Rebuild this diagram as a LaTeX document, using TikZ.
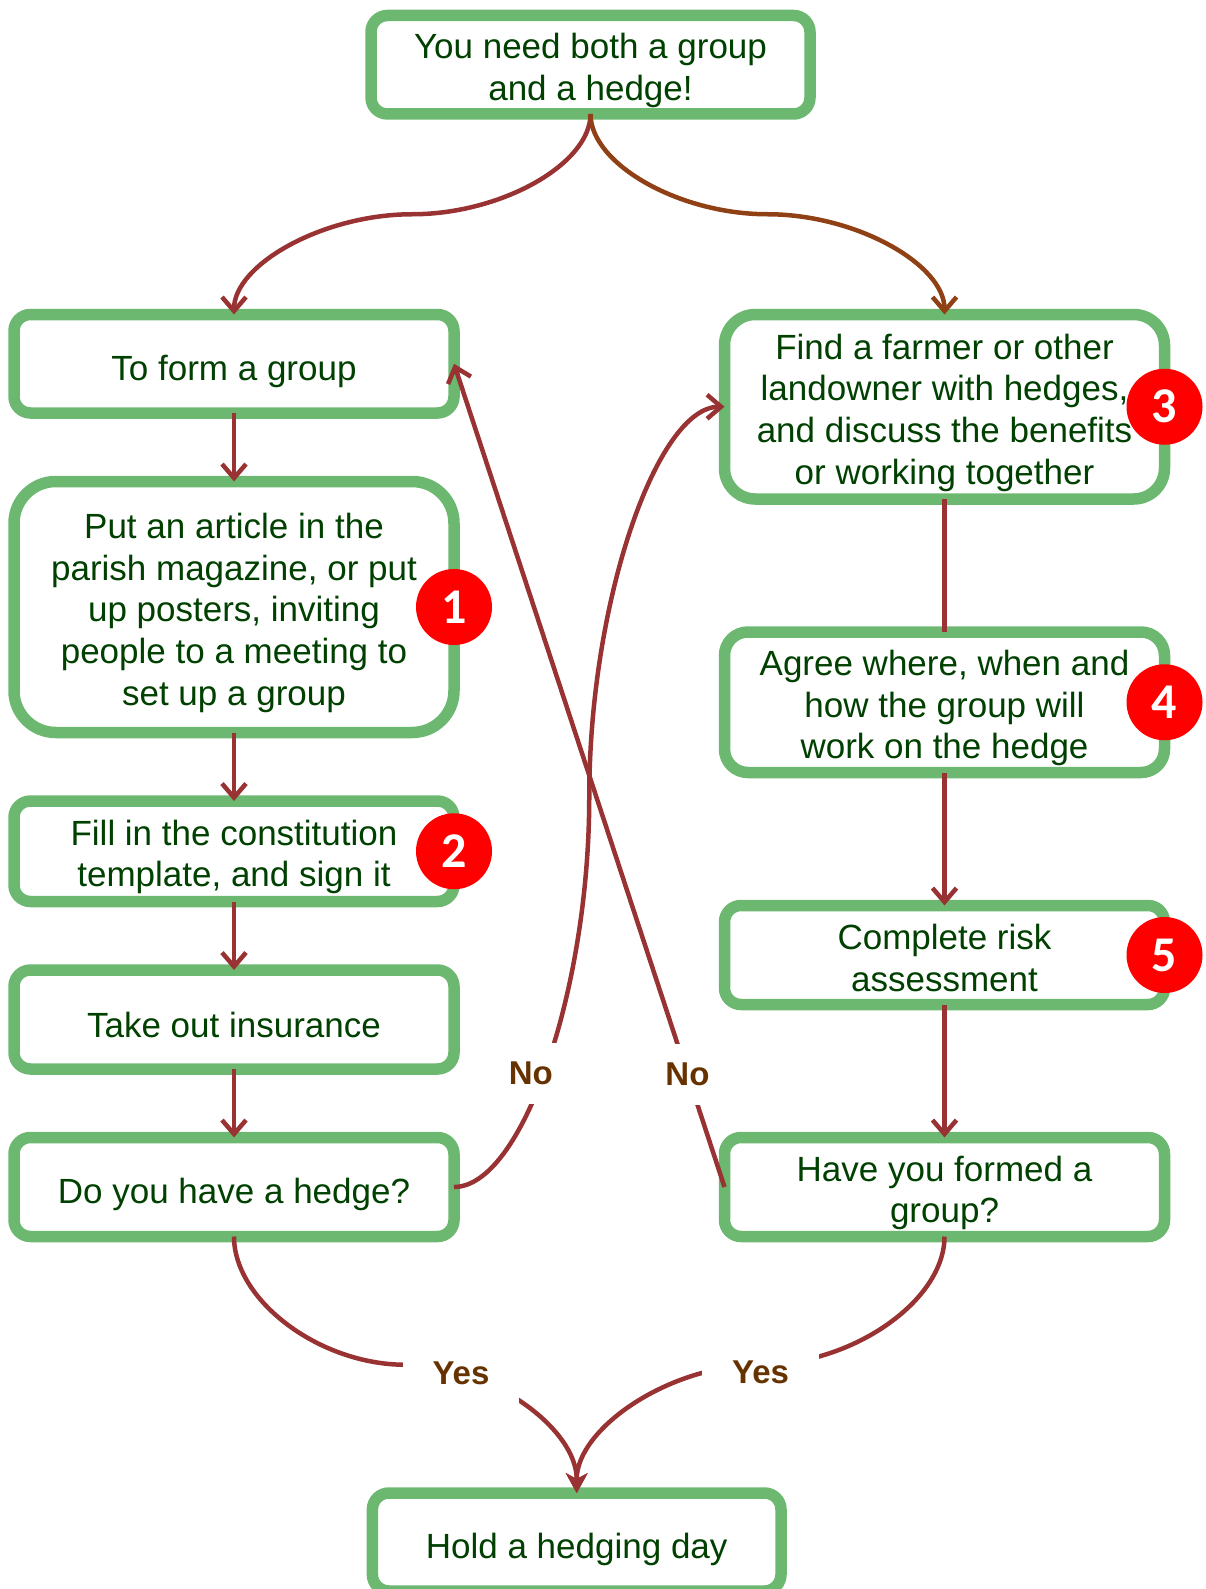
\documentclass[tikz,border=0pt]{standalone}
\usepackage{fontspec}
\setmainfont{Liberation Sans}
\newfontfamily\badgefont{Carlito}
\usetikzlibrary{arrows.meta,positioning,calc}
\definecolor{boxgreen}{RGB}{108,184,112}
\definecolor{textgreen}{RGB}{0,64,0}
\definecolor{linkred}{RGB}{153,51,51}
\definecolor{linkbrown}{RGB}{143,64,20}
\definecolor{answerbrown}{RGB}{102,51,0}
\definecolor{badgered}{RGB}{255,0,0}
\newcommand{\boxstrut}{\rule[-6pt]{0pt}{47pt}}
\newcommand{\firstline}{\rule{0pt}{37pt}}

\begin{document}
\begin{tikzpicture}[
  x=1pt, y=-1pt,
  node distance=68.5pt and 0pt,
  stage/.style={rectangle, draw=boxgreen, line width=11.5pt, rounded corners=16.5pt,
    minimum width=440pt, minimum height=99pt, outer sep=0pt, inner sep=4pt,
    align=center, text=textgreen, font=\fontsize{35}{41.7}\selectfont,
    execute at begin node=\boxstrut, execute at end node=\boxstrut},
  badge/.style={circle, fill=badgered, minimum size=76pt, inner sep=0pt,
    text=white, font=\badgefont\bfseries\fontsize{50}{50}\selectfont},
  answer/.style={fill=white, inner xsep=30pt, inner ysep=19pt, text=answerbrown,
    font=\bfseries\fontsize{33}{33}\selectfont},
  link/.style={draw=linkred, line width=4.5pt, -{Straight Barb[length=14pt,width=24pt]}},
  merge/.style={-{Stealth[length=20pt,width=22pt,inset=6pt,line width=0.5pt]}}
]
  \useasboundingbox (0,0) rectangle (1206,1589);

  \node[stage, minimum width=439pt, minimum height=98.5pt] (Need) at (590.5,64.75)
    {\firstline You need both a group\\and a hedge!};

  \node[stage, minimum height=98.5pt] (Group) at (234,363.75) {To form a group};
  \node[stage, below=of Group, minimum height=251pt, rounded corners=41.8pt] (Article)
    {\firstline Put an article in the\\parish magazine, or put\\up posters, inviting\\people to a meeting to\\set up a group};
  \node[stage, below=of Article, minimum height=100.5pt] (Const)
    {\firstline Fill in the constitution\\template, and sign it};
  \node[stage, below=of Const] (Insur) {Take out insurance};
  \node[stage, below=of Insur] (Hedge) {Do you have a hedge?};

  \node[stage, minimum height=184.5pt, rounded corners=30.8pt] (Farmer) at (944.5,406.75)
    {\firstline Find a farmer or other\\landowner with hedges,\\and discuss the benefits\\or working together};
  \node[stage, below=133pt of Farmer, minimum height=140.5pt, rounded corners=23.4pt] (Agree)
    {\firstline Agree where, when and\\how the group will\\work on the hedge};
  \node[stage, below=133pt of Agree] (Risk) {\firstline Complete risk\\assessment};
  \node[stage, below=133pt of Risk] (Formed) {\firstline Have you formed a\\group?};

  \node[stage, minimum width=408.6pt, minimum height=98pt] (Day) at (576.7,1542)
    {Hold a hedging day};

  \node[badge] (One) at (Article.east) {1};
  \node[badge] (Two) at (Const.east) {2};
  \node[badge] (Three) at (Farmer.east) {3};
  \node[badge] (Four) at (Agree.east) {4};
  \node[badge] (Five) at (Risk.east) {5};

  \coordinate (SplitL) at ($(Need.south)!0.5!(Group.north)$);
  \coordinate (SplitR) at ($(Need.south)!0.5!(Farmer.north)$);
  \coordinate (TurnNo) at ($(Hedge.east)!0.5!(Farmer.west)$);
  \coordinate (JoinL) at ($(Hedge.south)!0.5!(Day.north)$);
  \coordinate (JoinR) at ($(Formed.south)!0.5!(Day.north)$);

  \draw[link] (Need.south) .. controls +(0,50) and +(89,0) .. (SplitL)
    .. controls +(-89,0) and +(0,-50) .. (Group.north);
  \draw[link, draw=linkbrown] (Need.south) .. controls +(0,50) and +(-88.5,0) .. (SplitR)
    .. controls +(88.5,0) and +(0,-50) .. (Farmer.north);

  \draw[link] (Group.south) -- (Article.north);
  \draw[link] (Article.south) -- (Const.north);
  \draw[link] (Const.south) -- (Insur.north);
  \draw[link] (Insur.south) -- (Hedge.north);

  \draw[link, -] (Farmer.south) -- (Agree.north);
  \draw[link] (Agree.south) -- (Risk.north);
  \draw[link] (Risk.south) -- (Formed.north);

  \draw[link] (Hedge.east) .. controls +(67.6,0) and +(0,195.1) .. (TurnNo)
    node[answer, pos=0.48, xshift=-13pt] {No}
    .. controls +(0,-195.1) and +(-67.6,0) .. (Farmer.west);
  \draw[link] (Formed.west) -- node[answer, pos=0.137] {No} (Group.east);

  \draw[link, merge] (Hedge.south) .. controls +(0,64.1) and +(-85.7,0) .. (JoinL)
    .. controls +(85.7,0) and +(0,-64.1) .. (Day.north)
    node[answer, pos=0.22] {Yes};
  \draw[link, merge] (Formed.south) .. controls +(0,64.1) and +(92,0) .. (JoinR)
    node[answer, pos=1, yshift=-8pt] {Yes}
    .. controls +(-92,0) and +(0,-64.1) .. (Day.north);
\end{tikzpicture}
\end{document}
